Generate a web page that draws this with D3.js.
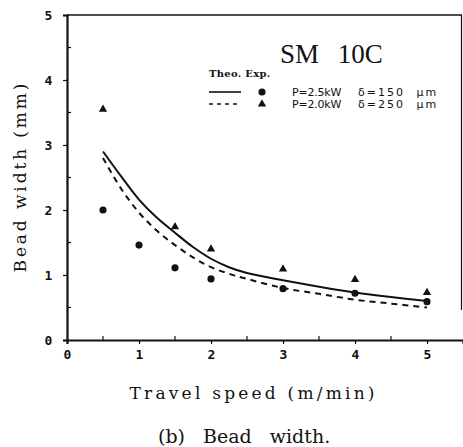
<!DOCTYPE html>
<html>
<head>
<meta charset="utf-8">
<style>
    body { margin: 0; padding: 0; overflow: hidden; background: #fff; }
    svg { display: block; }
</style>
</head>
<body>
<div id="chart"></div>
<script src="https://d3js.org/d3.v7.min.js"></script>
<script>
    // experimental points
    var expSpeed25 = [0.5, 1, 1.5, 2, 3, 4, 5];
    var expWidth25 = [2.0, 1.46, 1.11, 0.94, 0.79, 0.72, 0.59];
    var expSpeed20 = [0.5, 1.5, 2, 3, 4, 5];
    var expWidth20 = [3.55, 1.74, 1.4, 1.09, 0.93, 0.73];

    // theoretical curves
    var theoSpeed = [0.5, 0.75, 1, 1.25, 1.5, 1.75, 2, 2.25, 2.5, 3, 3.5, 4, 4.5, 5];
    var theoWidth25 = [2.9, 2.52, 2.16, 1.88, 1.65, 1.43, 1.25, 1.12, 1.03, 0.92, 0.82, 0.73, 0.66, 0.6];
    var theoWidth20 = [2.8, 2.33, 1.96, 1.68, 1.46, 1.27, 1.12, 1.02, 0.94, 0.8, 0.71, 0.62, 0.56, 0.5];

    var xTicks = [0, 1, 2, 3, 4, 5];
    var yTicks = [0, 1, 2, 3, 4, 5];

    var width = 463, height = 447;
    var svg = d3.select("#chart").append("svg")
        .attr("width", width)
        .attr("height", height);

    var x = d3.scaleLinear().domain([0, 5.5]).range([67, 463]);
    var y = d3.scaleLinear().domain([0, 5]).range([340, 15]);

    var ink = "#111";
    var tickFont = "DejaVu Sans Mono, monospace";
    var titleFont = "DejaVu Serif, serif";
    var legendFont = "DejaVu Sans, sans-serif";

    // frame: top and right
    svg.append("line").attr("x1", x(0)).attr("x2", 462).attr("y1", y(5)).attr("y2", y(5))
        .attr("stroke", ink).attr("stroke-width", 1.6);
    svg.append("line").attr("x1", 461.5).attr("x2", 461.5).attr("y1", y(5)).attr("y2", 310)
        .attr("stroke", ink).attr("stroke-width", 1.2);

    // axes
    var xAxis = svg.append("g").attr("transform", "translate(0," + y(0) + ")")
        .call(d3.axisBottom(x).tickValues(xTicks).tickSize(4).tickFormat(d3.format("d")));
    xAxis.select(".domain").attr("stroke", ink).attr("stroke-width", 2.2);
    xAxis.selectAll(".tick line").attr("stroke", ink).attr("stroke-width", 1.2);
    xAxis.selectAll(".tick text")
        .attr("font-family", tickFont).attr("font-size", 13).attr("font-weight", "bold")
        .attr("fill", ink).attr("dy", "0.95em");

    var yAxis = svg.append("g").attr("transform", "translate(" + x(0) + ",0)")
        .call(d3.axisLeft(y).tickValues(yTicks).tickSize(4).tickFormat(d3.format("d")));
    yAxis.select(".domain").attr("stroke", ink).attr("stroke-width", 2.2);
    yAxis.selectAll(".tick line").attr("stroke", ink).attr("stroke-width", 1.2);
    yAxis.selectAll(".tick text")
        .attr("font-family", tickFont).attr("font-size", 13).attr("font-weight", "bold")
        .attr("fill", ink).attr("dx", "-0.6em");

    // minor inner ticks
    var minorX = d3.range(0.5, 5.5, 1);
    svg.selectAll(".mx").data(minorX).enter().append("line")
        .attr("x1", d => x(d)).attr("x2", d => x(d))
        .attr("y1", y(0)).attr("y2", y(0) - 4)
        .attr("stroke", ink).attr("stroke-width", 1.2);
    var minorY = d3.range(0.5, 5, 1);
    svg.selectAll(".my").data(minorY).enter().append("line")
        .attr("x1", x(0)).attr("x2", x(0) + 4)
        .attr("y1", d => y(d)).attr("y2", d => y(d))
        .attr("stroke", ink).attr("stroke-width", 1.2);

    // theoretical curves
    var line = d3.line().curve(d3.curveCatmullRom).x(d => x(d[0])).y(d => y(d[1]));
    svg.append("path")
        .datum(d3.zip(theoSpeed, theoWidth25))
        .attr("d", line).attr("fill", "none")
        .attr("stroke", ink).attr("stroke-width", 2);
    svg.append("path")
        .datum(d3.zip(theoSpeed, theoWidth20))
        .attr("d", line).attr("fill", "none")
        .attr("stroke", ink).attr("stroke-width", 2)
        .attr("stroke-dasharray", "6,5");

    // experimental markers
    var circleSym = d3.symbol().type(d3.symbolCircle).size(40);
    var triSym = d3.symbol().type(d3.symbolTriangle).size(30);
    svg.selectAll(".c25").data(d3.zip(expSpeed25, expWidth25)).enter().append("path")
        .attr("d", circleSym)
        .attr("transform", d => "translate(" + x(d[0]) + "," + y(d[1]) + ")")
        .attr("fill", ink);
    svg.selectAll(".t20").data(d3.zip(expSpeed20, expWidth20)).enter().append("path")
        .attr("d", triSym)
        .attr("transform", d => "translate(" + x(d[0]) + "," + y(d[1]) + ")")
        .attr("fill", ink);

    // titles
    svg.append("text").attr("x", 280).attr("y", 63)
        .attr("font-family", "Liberation Serif, serif").attr("font-size", 27)
        .attr("fill", ink).attr("word-spacing", 12)
        .text("SM 10C");

    svg.append("text")
        .attr("transform", "translate(26,178) rotate(-90)")
        .attr("text-anchor", "middle")
        .attr("font-family", titleFont).attr("font-size", 17).attr("fill", ink)
        .attr("textLength", 189).attr("lengthAdjust", "spacing")
        .text("Bead width (mm)");
    svg.append("text")
        .attr("x", 252).attr("y", 399)
        .attr("text-anchor", "middle")
        .attr("font-family", titleFont).attr("font-size", 17).attr("fill", ink)
        .attr("textLength", 245).attr("lengthAdjust", "spacing")
        .text("Travel speed (m/min)");
    svg.append("text").attr("x", 158).attr("y", 443)
        .attr("font-family", titleFont).attr("font-size", 19)
        .attr("fill", ink).attr("word-spacing", 12)
        .text("(b) Bead width.");

    // legend
    svg.append("text").attr("x", 209).attr("y", 77)
        .attr("font-family", titleFont).attr("font-weight", "bold")
        .attr("font-size", 10).attr("fill", ink).attr("letter-spacing", 0.3)
        .text("Theo. Exp.");
    svg.append("line").attr("x1", 209).attr("x2", 241).attr("y1", 92).attr("y2", 92)
        .attr("stroke", ink).attr("stroke-width", 1.6);
    svg.append("line").attr("x1", 209).attr("x2", 241).attr("y1", 104).attr("y2", 104)
        .attr("stroke", ink).attr("stroke-width", 1.4).attr("stroke-dasharray", "4,4");
    svg.append("path").attr("d", circleSym).attr("transform", "translate(262,92)").attr("fill", ink);
    svg.append("path").attr("d", triSym).attr("transform", "translate(262,104)").attr("fill", ink);

    var legendRows = [["P=2.5kW", "δ=150 μm"], ["P=2.0kW", "δ=250 μm"]];
    legendRows.forEach(function(r, i) {
        svg.append("text").attr("x", 292).attr("y", 96 + i * 12)
            .attr("font-family", legendFont).attr("font-size", 11).attr("fill", ink)
            .attr("letter-spacing", -0.2)
            .text(r[0]);
        svg.append("text").attr("x", 358).attr("y", 96 + i * 12)
            .attr("font-family", legendFont).attr("font-size", 11).attr("fill", ink)
            .attr("letter-spacing", 2).attr("word-spacing", 6)
            .text(r[1]);
    });
</script>
</body>
</html>
